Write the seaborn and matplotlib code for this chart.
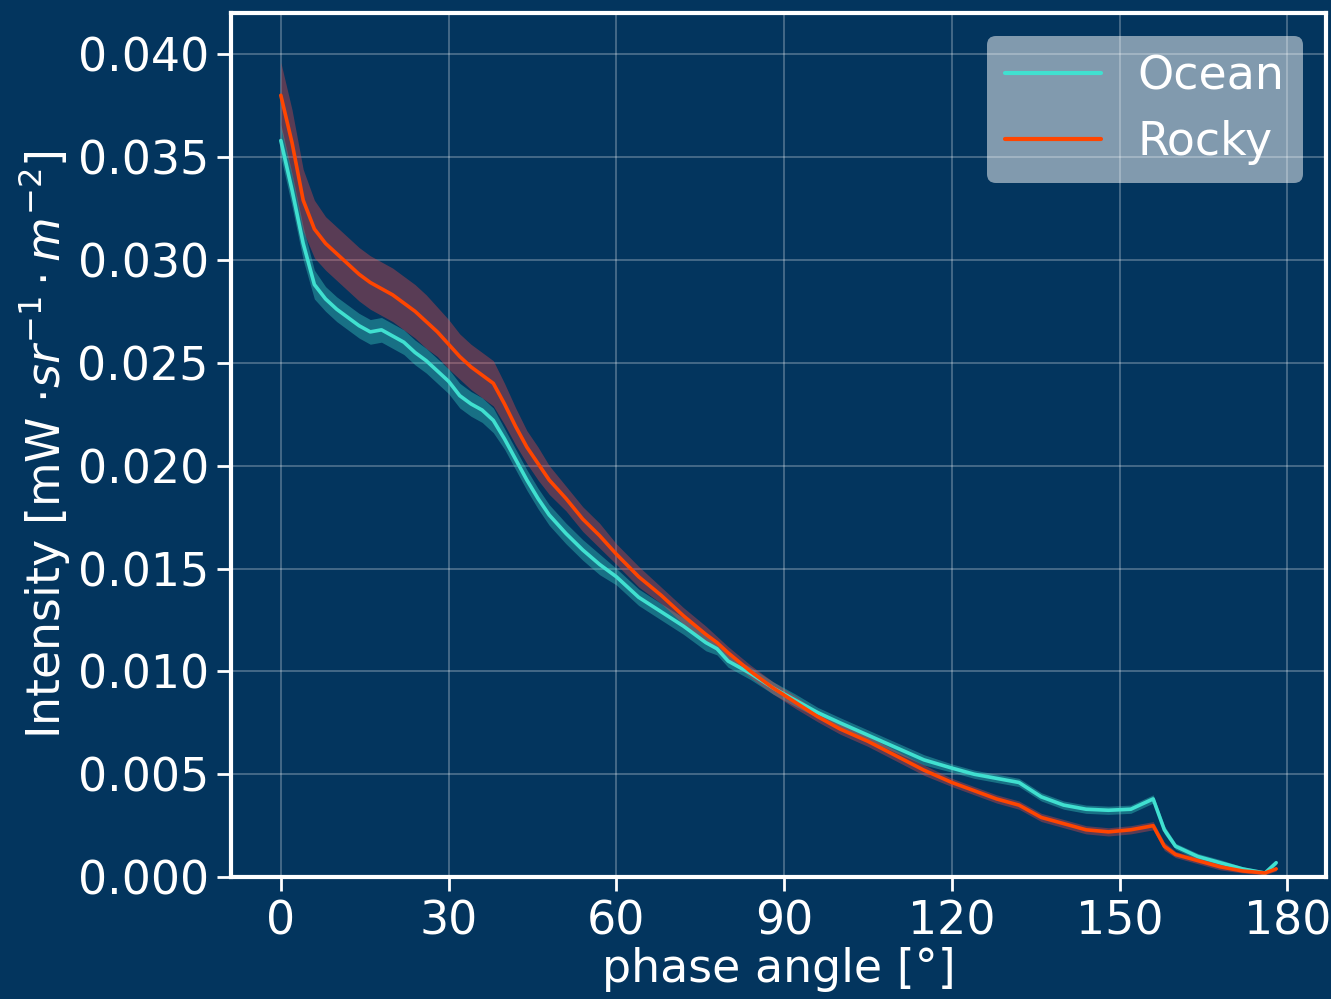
import numpy as np
import pandas as pd
import matplotlib
matplotlib.use("Agg")
import matplotlib.pyplot as plt
import seaborn as sns

phase = [0, 2, 4, 6, 8, 10, 12, 14, 16, 18, 20, 22, 24, 26, 28, 30, 32, 34, 36, 38,
         40, 42, 44, 46, 48, 51, 54, 57, 60, 64, 68, 72, 76, 78, 80, 84, 88, 92, 96, 100,
         105, 110, 115, 120, 124, 128, 132, 136, 140, 144, 148, 152, 156, 158, 160, 164,
         168, 172, 176, 178]

ocean = [0.0358, 0.0334, 0.0308, 0.0288, 0.0281, 0.0276, 0.0272, 0.0268, 0.0265, 0.0266,
         0.0263, 0.0260, 0.0255, 0.0251, 0.0246, 0.0241, 0.0234, 0.0230, 0.0227, 0.0222,
         0.0213, 0.0203, 0.0193, 0.0184, 0.0176, 0.0167, 0.0159, 0.0152, 0.0146, 0.0136,
         0.0129, 0.0122, 0.0114, 0.0111, 0.0105, 0.0099, 0.0092, 0.0086, 0.0080, 0.0075,
         0.0069, 0.0063, 0.0057, 0.0053, 0.0050, 0.0048, 0.0046, 0.0039, 0.0035, 0.0033,
         0.00325, 0.0033, 0.0038, 0.0023, 0.0015, 0.0010, 0.0007, 0.0004, 0.0002, 0.0007]

rocky = [0.0380, 0.0357, 0.0329, 0.0315, 0.0308, 0.0303, 0.0298, 0.0293, 0.0289, 0.0286,
         0.0283, 0.0279, 0.0275, 0.0270, 0.0265, 0.0259, 0.0253, 0.0248, 0.0244, 0.0240,
         0.0230, 0.0219, 0.0209, 0.0201, 0.0193, 0.0184, 0.0174, 0.0166, 0.0157, 0.0146,
         0.0137, 0.0127, 0.0118, 0.0114, 0.0109, 0.0100, 0.0092, 0.0085, 0.0078, 0.0072,
         0.0066, 0.0059, 0.0052, 0.0046, 0.0042, 0.0038, 0.0035, 0.0029, 0.0026, 0.0023,
         0.0022, 0.0023, 0.0025, 0.0015, 0.0011, 0.0008, 0.0005, 0.0003, 0.0002, 0.0004]

ocean_spread = [0.0008, 0.0008, 0.0008, 0.0007, 0.0006, 0.0006, 0.0006, 0.0006, 0.0006, 0.0006,
                0.0006, 0.0006, 0.0006, 0.0006, 0.0006, 0.0006, 0.0006, 0.0006, 0.0006, 0.0006,
                0.0005, 0.0005, 0.0005, 0.0005, 0.0005, 0.0005, 0.0005, 0.0005, 0.0004, 0.0004,
                0.0004, 0.0004, 0.0004, 0.0003, 0.0003, 0.0003, 0.0003, 0.0003, 0.00025, 0.00025,
                0.00025, 0.00025, 0.00025, 0.0002, 0.0002, 0.0002, 0.0002, 0.0002, 0.0002, 0.0002,
                0.0002, 0.0002, 0.0002, 0.0002, 0.00015, 0.00015, 0.00015, 0.0001, 0.0001, 0.0001]

rocky_spread = [0.0016, 0.0016, 0.0015, 0.0014, 0.0013, 0.0013, 0.0013, 0.0013, 0.0013, 0.0013,
                0.0013, 0.0013, 0.0013, 0.0013, 0.0012, 0.0012, 0.0011, 0.0011, 0.0011, 0.0011,
                0.0010, 0.0009, 0.0008, 0.0008, 0.0007, 0.0006, 0.0006, 0.0006, 0.0005, 0.0005,
                0.0004, 0.0004, 0.0004, 0.0003, 0.0003, 0.0003, 0.0003, 0.0003, 0.00025, 0.00025,
                0.00025, 0.00025, 0.00025, 0.0002, 0.0002, 0.0002, 0.0002, 0.0002, 0.0002, 0.0002,
                0.0002, 0.0002, 0.0002, 0.0002, 0.00015, 0.00015, 0.00015, 0.0001, 0.0001, 0.0001]

series_names = ["Ocean", "Rocky"]
colors = {"Ocean": "#40E0D0", "Rocky": "#FF4500"}
band_colors = {"Ocean": "#40E0D0", "Rocky": "#E84848"}
band_alpha = {"Ocean": 0.35, "Rocky": 0.38}
bg = "#03355E"

df = pd.DataFrame({
    "phase": phase * 2,
    "intensity": ocean + rocky,
    "spread": ocean_spread + rocky_spread,
    "planet": ["Ocean"] * len(phase) + ["Rocky"] * len(phase),
})

sns.set_theme(style="darkgrid")
plt.rcParams["font.family"] = ["DejaVu Sans"]

fig, ax = plt.subplots(figsize=(13.31, 9.99), dpi=100)
fig.patch.set_facecolor(bg)
ax.set_facecolor(bg)

for name in series_names:
    sub = df[df["planet"] == name]
    ax.fill_between(sub["phase"], sub["intensity"] - sub["spread"],
                    sub["intensity"] + sub["spread"], color=band_colors[name],
                    alpha=band_alpha[name], linewidth=0)

sns.lineplot(data=df, x="phase", y="intensity", hue="planet", palette=colors,
             hue_order=series_names, linewidth=2.6, ax=ax)

ax.set_ylim(0, 0.042)
ax.set_xticks([0, 30, 60, 90, 120, 150, 180])
ax.set_yticks(np.arange(0, 0.0401, 0.005))
ax.yaxis.set_major_formatter(matplotlib.ticker.FormatStrFormatter("%.3f"))

ax.grid(True, color="white", alpha=0.3, linewidth=1.2)
for s in ax.spines.values():
    s.set_visible(True)
    s.set_color("white")
    s.set_linewidth(3)

ax.tick_params(axis="both", colors="white", labelsize=33, length=10, width=2,
               direction="out", left=True, bottom=True, pad=6)
ax.set_xlabel("phase angle [°]", color="white", fontsize=33, labelpad=2)
ax.set_ylabel(r"Intensity [mW $\cdot sr^{-1} \cdot m^{-2}$]", color="white",
              fontsize=33, labelpad=4)

leg = ax.legend(loc="upper right", fontsize=33, frameon=True, facecolor="white",
                framealpha=0.5, edgecolor="none", handlelength=2.1,
                labelspacing=0.45, borderaxespad=0.5, handletextpad=0.8,
                borderpad=0.4)
for t in leg.get_texts():
    t.set_color("white")
for h in leg.get_lines():
    h.set_linewidth(3)

fig.subplots_adjust(left=0.1736, right=0.9962, top=0.987, bottom=0.122)
fig.savefig("out.png", dpi=100, facecolor=bg)
